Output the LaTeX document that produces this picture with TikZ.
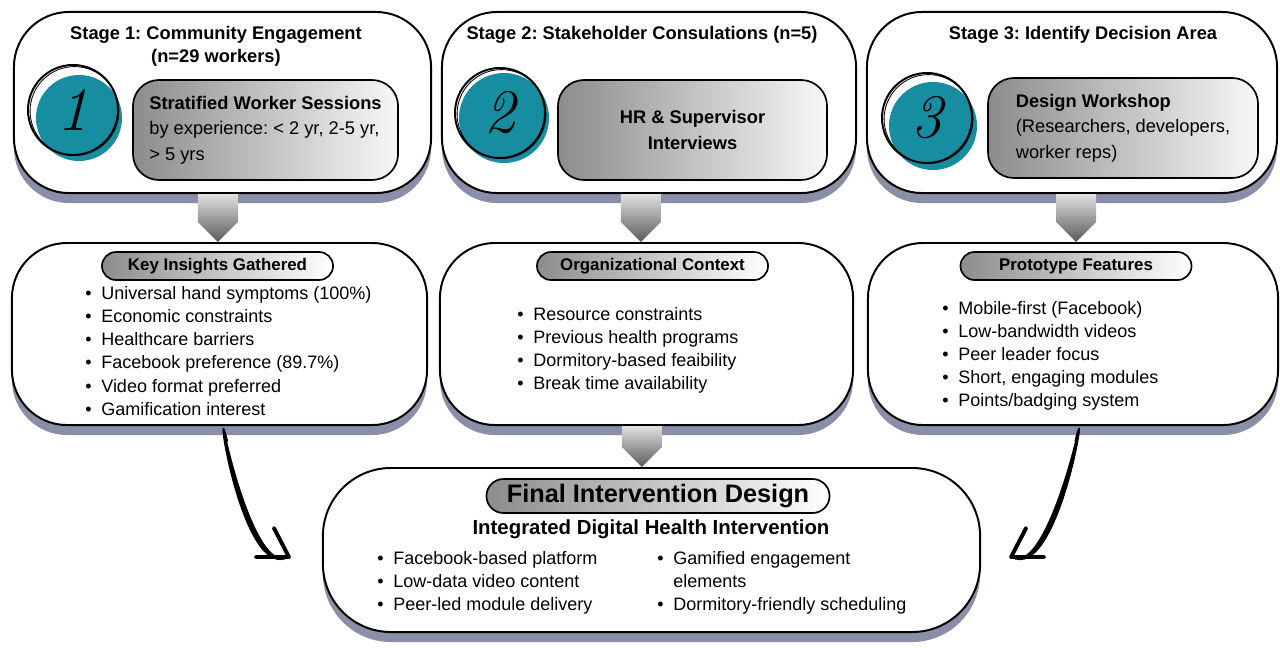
\documentclass[tikz,border=0pt]{standalone}
\usepackage{fontspec}
\setsansfont{Liberation Sans}
\usepackage{tikz}
\usetikzlibrary{arrows.meta, positioning, shadows}

\definecolor{badgeteal}{RGB}{22,141,160}
\definecolor{shadowblue}{RGB}{138,142,166}

\newcommand{\blockarrow}[3]{%
  \coordinate (tip) at ([xshift=#3]#2.north);
  \path (tip |- #1.south) coordinate (root);
  \shade[arrowshade] ([xshift=-0.5cm]root) -- ([xshift=0.5cm]root)
    -- ([xshift=0.5cm,yshift=0.5cm]tip) -- (tip)
    -- ([xshift=-0.5cm,yshift=0.5cm]tip) -- cycle;
}
\newcommand{\bul}{\makebox[11.4pt][l]{\textbullet}}

\begin{document}
\frenchspacing
\begin{tikzpicture}[
        x=0.025cm, y=-0.025cm,
        font=\sffamily,
        stagebox/.style={rectangle, draw=black, line width=1.4pt, fill=white, rounded corners=1.375cm, inner sep=0pt, general shadow={fill=shadowblue, shadow yshift=-0.25cm}},
        innerbox/.style={rectangle, draw=black, line width=1.2pt, rounded corners=0.65cm, left color=black!45, right color=black!3, minimum height=2.5cm, font=\sffamily\fontsize{13}{18}\selectfont},
        pill/.style={rectangle, draw=black, line width=1.2pt, rounded corners=0.35cm, left color=black!45, right color=white, minimum width=5.775cm, minimum height=0.7cm, inner sep=0pt, font=\sffamily\bfseries\fontsize{12}{14}\selectfont},
        stagetitle/.style={align=center, font=\sffamily\bfseries\fontsize{13}{16.4}\selectfont},
        bullets/.style={anchor=west, align=left, inner sep=0pt, font=\sffamily\fontsize{12.8}{16.4}\selectfont},
        tealdot/.style={circle, fill=badgeteal, inner sep=0pt},
        badge/.style={circle, draw=black, line width=1.4pt, minimum size=2.25cm, inner sep=0pt, font=\rmfamily\itshape\fontsize{44}{44}\selectfont},
        arrowshade/.style={top color=black!12, bottom color=black!65},
        sweep/.style={fill=black, draw=black, line width=0.8pt, line cap=round, line join=round},
        barb/.style={line width=2.8pt, line cap=round, line join=round},
    ]
        \fill[white] (0,0) rectangle (1280,647);
        \useasboundingbox (0,0) rectangle (1280,647);

        \node[stagebox, minimum width=10.425cm, minimum height=4.525cm] (s1) at (222.5,102.5) {};
        \node[stagebox, minimum width=10.35cm, minimum height=4.525cm] (s2) at (649,102.5) {};
        \node[stagebox, minimum width=10.25cm, minimum height=4.525cm] (s3) at (1072,102.5) {};

        \node[stagetitle] (t1) at (216,46) {Stage 1: Community Engagement\\(n=29 workers)};
        \node[stagetitle] (t2) at (642,35) {Stage 2: Stakeholder Consulations (n=5)};
        \node[stagetitle] (t3) at (1083,35) {Stage 3: Identify Decision Area};

        \node[tealdot, minimum size=2.15cm] (dot1) at (79,118) {};
        \node[tealdot, minimum size=2.25cm] (dot2) at (504,118) {};
        \node[tealdot, minimum size=2.2cm] (dot3) at (933,126) {};
        \node[badge] (b1) at (73,110) {1};
        \node[badge] (b2) at (500,113) {2};
        \node[badge] (b3) at (927,118) {3};
        \draw[line width=0.6pt] ([shift={(1.5,1)}]b1.center) circle (1.11cm);
        \draw[line width=0.6pt] ([shift={(1.5,1)}]b2.center) circle (1.11cm);
        \draw[line width=0.6pt] ([shift={(1.5,1)}]b3.center) circle (1.11cm);

        \node[innerbox, minimum width=6.625cm, align=left] (i1) at (265.5,130) {\textbf{Stratified Worker Sessions}\\by experience: < 2 yr, 2-5 yr,\\> 5 yrs};
        \node[innerbox, minimum width=6.725cm, align=center, font=\sffamily\bfseries\fontsize{13}{18}\selectfont] (i2) at (692.5,130) {HR \& Supervisor\\Interviews};
        \node[innerbox, minimum width=6.75cm, align=left] (i3) at (1123,128) {\textbf{Design Workshop}\\(Researchers, developers,\\worker reps)};

        \node[stagebox, minimum width=10.375cm, minimum height=4.55cm] (k1) at (219.5,334) {};
        \node[stagebox, minimum width=10.325cm, minimum height=4.55cm] (k2) at (646.5,334) {};
        \node[stagebox, minimum width=10.25cm, minimum height=4.55cm] (k3) at (1073,334) {};

        \node[pill] (p1) at (217.5,266) {Key Insights Gathered};
        \node[pill] (p2) at (652.5,266) {Organizational Context};
        \node[pill] (p3) at (1076,266) {Prototype Features};

        \node[bullets] (l1) at (85,351) {\bul Universal hand symptoms (100\%)\\\bul Economic constraints\\\bul Healthcare barriers\\\bul Facebook preference (89.7\%)\\\bul Video format preferred\\\bul Gamification interest};
        \node[bullets] (l2) at (517,350) {\bul Resource constraints\\\bul Previous health programs\\\bul Dormitory-based feaibility\\\bul Break time availability};
        \node[bullets] (l3) at (942,356) {\bul Mobile-first (Facebook)\\\bul Low-bandwidth videos\\\bul Peer leader focus\\\bul Short, engaging modules\\\bul Points/badging system};

        \node[stagebox, rounded corners=1.7cm, minimum width=16.425cm, minimum height=4.1cm] (f) at (651.5,550) {};
        \node[pill, minimum width=8.575cm, minimum height=0.85cm, rounded corners=0.425cm, font=\sffamily\bfseries\fontsize{18}{20}\selectfont] (fp) at (658,496) {Final Intervention Design};
        \node[stagetitle, font=\sffamily\bfseries\fontsize{14.5}{16}\selectfont] (fs) at (651,529) {Integrated Digital Health Intervention};
        \node[bullets] (fl) at (377,583) {\bul Facebook-based platform\\\bul Low-data video content\\\bul Peer-led module delivery};
        \node[bullets] (fr) at (657,583) {\bul Gamified engagement\\\hspace*{11.4pt}elements\\\bul Dormitory-friendly scheduling};

        \blockarrow{s1}{k1}{-0.04cm}
        \blockarrow{s2}{k2}{-0.14cm}
        \blockarrow{s3}{k3}{0.075cm}
        \blockarrow{k2}{f}{-0.24cm}

        \coordinate (c1) at ([shift={(0.2cm,-0.375cm)}]k1.south);
        \coordinate (c2) at ([xshift=-0.825cm,yshift=-0.175cm]f.west);
        \coordinate (c3) at ([shift={(0.05cm,-0.375cm)}]k3.south);
        \coordinate (c4) at ([xshift=0.75cm,yshift=-0.175cm]f.east);

        \path[sweep] (c1) to[out=104, in=210, out looseness=1.32, in looseness=1.08] (c2)
            to[out=210, in=104, out looseness=0.85, in looseness=1.05] (c1);
        \draw[barb] ([shift={(-15,-29)}]c2) -- (c2) -- ([shift={(-33,0)}]c2);
        \path[sweep] (c3) to[out=76, in=-30, out looseness=1.32, in looseness=1.08] (c4)
            to[out=-30, in=76, out looseness=0.85, in looseness=1.05] (c3);
        \draw[barb] ([shift={(15,-29)}]c4) -- (c4) -- ([shift={(33,0)}]c4);
    \end{tikzpicture}
\end{document}
